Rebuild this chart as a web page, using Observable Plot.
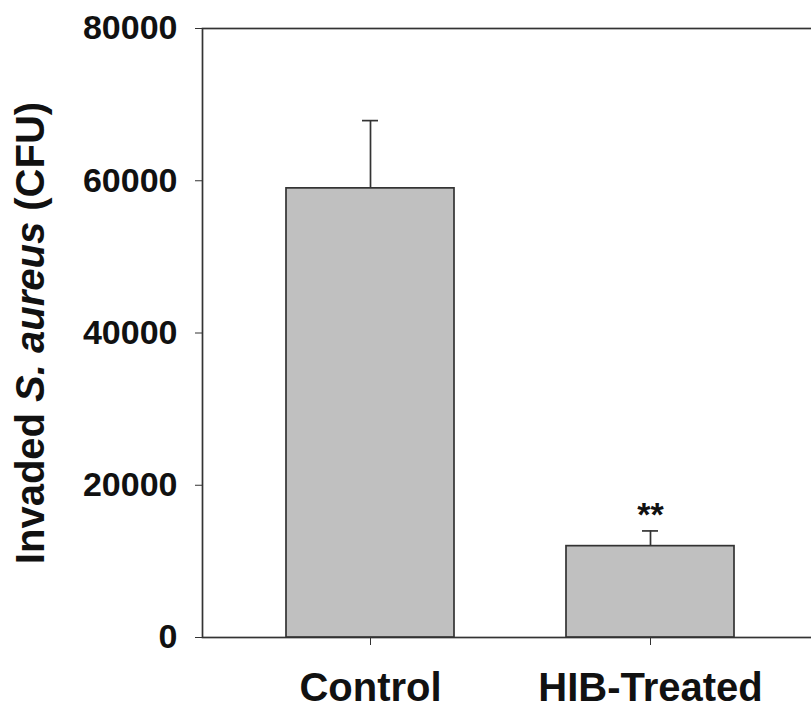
<!DOCTYPE html>
<html>
<head>
<meta charset="utf-8">
<script src="https://cdn.jsdelivr.net/npm/d3@7"></script>
<script src="https://cdn.jsdelivr.net/npm/@observablehq/plot@0.6"></script>
<style>
  html, body { margin: 0; padding: 0; background: #fff; overflow: hidden; }
</style>
</head>
<body>
<div id="chart"></div>
<script>
// Invaded S. aureus counts per treatment group (mean ± error)
const groups = ["Control", "HIB-Treated"];
const means = [59000, 12000];
const errors = [8900, 2000];
const significance = ["", "**"];
const yTicks = [0, 20000, 40000, 60000, 80000];
const yLabelParts = [
  { text: "Invaded ", italic: false },
  { text: "S. aureus", italic: true },
  { text: " (CFU)", italic: false }
];
const yLabel = yLabelParts.map(p => p.text).join("");

const rows = groups.map((g, i) => ({
  group: g,
  mean: means[i],
  upper: means[i] + errors[i],
  sig: significance[i]
}));

const ink = "#333";

const svg = Plot.plot({
  width: 811,
  height: 713,
  marginLeft: 202,
  marginRight: -6,
  marginTop: 28,
  marginBottom: 76,
  style: {
    fontFamily: "'Liberation Sans', Arial, sans-serif",
    fontWeight: "bold",
    background: "white",
    color: "#111"
  },
  x: { domain: groups, range: [202, 818], paddingInner: 0.4, paddingOuter: 0.3 },
  y: { domain: [0, 80000], range: [637, 28] },
  marks: [
    Plot.frame({ stroke: ink, strokeWidth: 1.7 }),
    // error stems above each bar
    Plot.ruleX(rows, { x: "group", y1: "mean", y2: "upper", stroke: ink, strokeWidth: 1.7 }),
    // error caps
    Plot.tickY(rows, { x: "group", y: "upper", stroke: ink, strokeWidth: 1.7, insetLeft: 76, insetRight: 76 }),
    Plot.barY(rows, { x: "group", y: "mean", fill: "#c0c0c0", stroke: ink, strokeWidth: 1.7 }),
    Plot.text(rows, { x: "group", y: "upper", text: "sig", lineAnchor: "bottom", dy: -5, fontSize: 34, fill: "#111" }),
    Plot.axisY({
      ticks: yTicks,
      tickFormat: d => String(d),
      tickSize: 7,
      tickPadding: 18,
      fontSize: 34,
      label: null,
      stroke: ink
    }),
    Plot.axisX({
      tickSize: 8,
      tickPadding: 27,
      fontSize: 40,
      label: null,
      stroke: ink
    }),
    Plot.text([yLabel], {
      frameAnchor: "left",
      dx: -171,
      rotate: -90,
      fontSize: 40,
      textAnchor: "middle",
      fill: "#111"
    })
  ]
});

// italicise the species name inside the y-axis title
d3.select(svg).selectAll("text")
  .filter(function () { return this.textContent === yLabel; })
  .each(function () {
    const t = d3.select(this);
    t.text(null);
    yLabelParts.forEach(p => {
      t.append("tspan")
        .attr("font-style", p.italic ? "italic" : null)
        .text(p.text);
    });
  });

document.getElementById("chart").appendChild(svg);
</script>
</body>
</html>
